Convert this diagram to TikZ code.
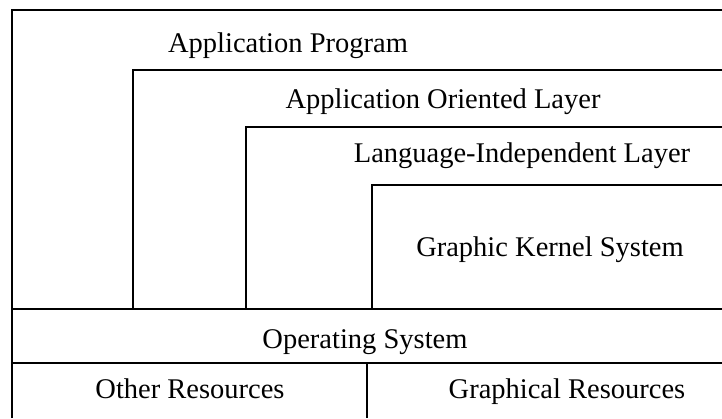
\documentclass[tikz,border=0pt]{standalone}
\usepackage{fontspec}
\setmainfont{Liberation Serif}
\tikzset{
    frame/.style={line width=1.7pt, black},
    layer/.style={anchor=base, inner sep=0pt, font=\fontsize{28.5}{30}\selectfont}
}
\begin{document}
\begin{tikzpicture}[x=1pt, y=-1pt]
    \useasboundingbox (0,0) rectangle (722,418);
    % nested layers, open to the right
    \draw[frame] (12,418) -- (12,10) -- (722,10);
    \draw[frame] (133,309) -- (133,70) -- (722,70);
    \draw[frame] (246,309) -- (246,127) -- (722,127);
    \draw[frame] (372,309) -- (372,185) -- (722,185);
    % operating system band and resources
    \draw[frame] (12,309) -- (722,309);
    \draw[frame] (12,363) -- (722,363);
    \draw[frame] (367,363) -- (367,418);

    \node[layer] (prog) at (288,52) {Application Program};
    \node[layer] (oriented) at (443,108) {Application Oriented Layer};
    \node[layer] (indep) at (522,162) {Language-Independent Layer};
    \node[layer] (gks) at (550,256) {Graphic Kernel System};
    \node[layer] (os) at (365,348) {Operating System};
    \node[layer] (other) at (190,398) {Other Resources};
    \node[layer] (graph) at (567,398) {Graphical Resources};
\end{tikzpicture}
\end{document}
